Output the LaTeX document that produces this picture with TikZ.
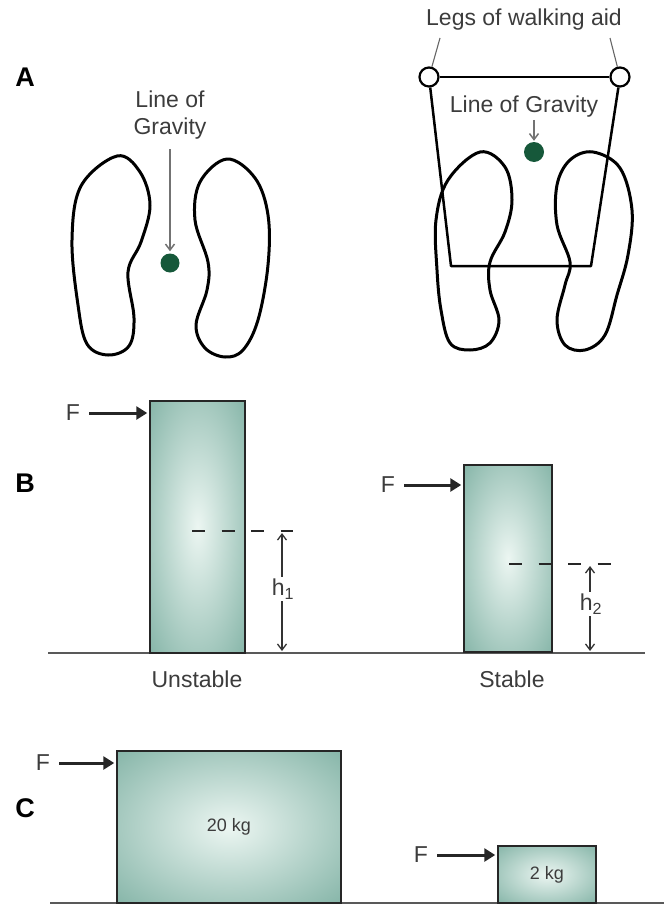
\documentclass[tikz,border=0pt]{standalone}
\usepackage{fontspec}
\setmainfont{Liberation Sans}
\usetikzlibrary{arrows.meta,positioning}
\definecolor{boxteal}{RGB}{110,166,151}
\definecolor{boxlight}{RGB}{236,246,242}
\definecolor{dotgreen}{RGB}{22,88,58}
\definecolor{inkgray}{RGB}{60,60,60}
\pgfdeclareradialshading{blockglow}{\pgfpoint{0bp}{0bp}}{color(0bp)=(boxlight); color(44bp)=(boxteal); color(72bp)=(boxteal)}

\begin{document}
\begin{tikzpicture}[x=1pt,y=-1pt,
  txt/.style={text=inkgray,font=\fontsize{23}{27}\selectfont,inner sep=2pt},
  small/.style={text=inkgray,font=\fontsize{18}{21}\selectfont},
  panel/.style={text=black,font=\fontsize{27}{30}\selectfont\bfseries},
  foot/.style={line width=3pt,line join=round},
  aid/.style={line width=2.5pt,line join=round},
  leg/.style={circle,draw,line width=2.2pt,fill=white,minimum size=19pt,inner sep=0pt},
  gdot/.style={circle,fill=dotgreen,inner sep=0pt,minimum size=#1},
  leader/.style={draw=black!60,line width=1.1pt},
  gravarrow/.style={-{Straight Barb[length=6pt,width=9pt]},draw=black!55,line width=1.5pt},
  block/.style={draw=black!85,line width=2.5pt,shade,shading=blockglow,inner sep=0pt},
  farrow/.style={-{Triangle[length=11pt,width=13pt]},line width=3pt,draw=black!85,shorten <=7pt,shorten >=1.5pt},
  dimarrow/.style={-{Straight Barb[length=6pt,width=9pt]},line width=1.3pt,draw=black!80},
  cgline/.style={line width=2.2pt,draw=black!85,dash pattern=on 13pt off 16.5pt},
  ground/.style={line width=1.5pt,draw=black!65}]
\useasboundingbox (0,0) rectangle (664,905);

% A
\node[panel] (pA) at (25,77) {A};
\draw[foot] plot[smooth cycle,tension=0.6] coordinates {(117,156) (140,172) (150,205) (141,242) (128,272) (134,318) (129,346) (108,355) (87,344) (78,305) (72,240) (81,186)};
\draw[foot] plot[smooth cycle,tension=0.6] coordinates {(227,159) (255,178) (268,215) (268,265) (258,320) (243,350) (225,357) (205,348) (196,325) (207,290) (208,262) (195,220) (200,182)};
\node[txt,align=center] (lgA) at (170,115) {Line of\\Gravity};
\node[gdot=19pt] (dot1) at (170,263) {};
\draw[gravarrow,shorten <=8pt,shorten >=2pt] (lgA) -- (dot1);

\draw[foot] plot[smooth cycle,tension=0.6] coordinates {(480,152) (505,167) (512,200) (505,232) (490,262) (490,290) (499,320) (490,343) (470,350) (450,343) (441,310) (437,270) (436,220) (448,180)};
\draw[foot] plot[smooth cycle,tension=0.6] coordinates {(593,152) (620,168) (632,210) (628,255) (617,295) (605,335) (585,350) (565,345) (557,320) (565,285) (570,262) (557,225) (557,185) (570,160)};
\node[leg] (legL) at (429,77) {};
\node[leg] (legR) at (620,77) {};
\coordinate (aidBL) at (451,266);
\coordinate (aidBR) at (591,266);
\draw[aid] (legL) -- (aidBL) -- (aidBR) -- (legR);
\draw[aid] (legL) -- (legR);
\node[txt] (legs) at (524,20) {Legs of walking aid};
\coordinate (ldL) at (440,38);
\coordinate (ldR) at (610,38);
\draw[leader] (ldL) -- (legL);
\draw[leader] (ldR) -- (legR);
\node[txt] (lgB) at (524,107) {Line of Gravity};
\node[gdot=20pt] (dot2) at (534,152) {};
\draw[gravarrow,shorten >=1pt] (lgB.south -| dot2) -- (dot2);

% B
\node[panel] (pB) at (25,483) {B};
\draw[ground] (48,653) -- (645,653);
\node[block,minimum width=95pt,minimum height=252pt] (blkB1) at (197.5,527) {};
\node[block,minimum width=88pt,minimum height=187pt] (blkB2) at (508,558.5) {};
\node[txt] (fB1) at (73,413) {F};
\draw[farrow] (fB1) -- (fB1 -| blkB1.west);
\node[txt] (fB2) at (388,485) {F};
\draw[farrow] (fB2) -- (fB2 -| blkB2.west);
\coordinate (cg1a) at (192,531);
\coordinate (cg1b) at (293,531);
\draw[cgline] (cg1a) -- (cg1b);
\coordinate (cg2a) at (509,564);
\coordinate (cg2b) at (612,564);
\draw[cgline] (cg2a) -- (cg2b);
\node[txt] (h1) at (283,589) {h\textsubscript{1}};
\coordinate (d1top) at (282,533);
\coordinate (d1bot) at (282,651);
\draw[dimarrow] (h1.north -| d1top) -- (d1top);
\draw[dimarrow] (h1.south -| d1bot) -- (d1bot);
\node[txt] (h2) at (591,604) {h\textsubscript{2}};
\coordinate (d2top) at (590,566);
\coordinate (d2bot) at (590,651);
\draw[dimarrow] (h2.north -| d2top) -- (d2top);
\draw[dimarrow] (h2.south -| d2bot) -- (d2bot);
\node[txt] (unst) at (197,679) {Unstable};
\node[txt] (stab) at (512,679) {Stable};

% C
\node[panel] (pC) at (25,808) {C};
\draw[ground] (50,903) -- (664,903);
\node[block,minimum width=224pt,minimum height=152pt,small] (blkC1) at (229,827) {20 kg};
\node[block,minimum width=98pt,minimum height=57pt,small] (blkC2) at (547,874.5) {2 kg};
\node[txt] (fC1) at (43,763) {F};
\draw[farrow] (fC1) -- (fC1 -| blkC1.west);
\node[txt] (fC2) at (421,855) {F};
\draw[farrow] (fC2) -- (fC2 -| blkC2.west);
\end{tikzpicture}
\end{document}
